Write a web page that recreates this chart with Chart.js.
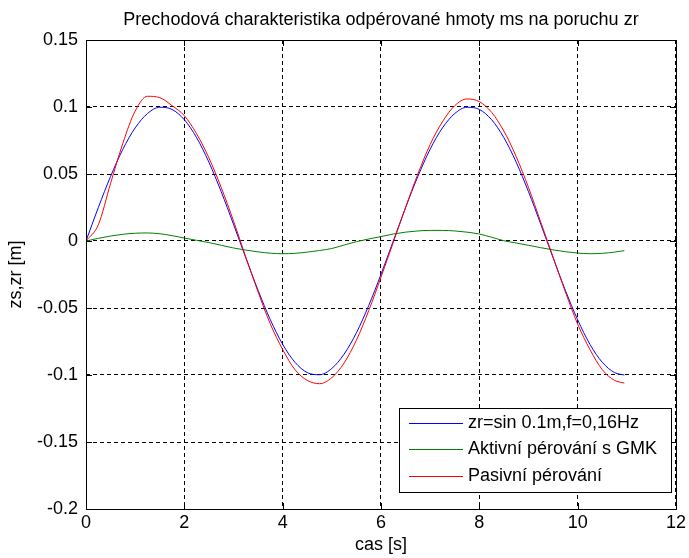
<!DOCTYPE html>
<html><head><meta charset="utf-8">
<script src="https://cdn.jsdelivr.net/npm/chart.js@4/dist/chart.umd.min.js"></script>
<style>html,body{margin:0;padding:0;background:#fff}</style>
</head><body>
<canvas id="c" width="689" height="558"></canvas>
<script>
// ---- data ----
const time = [0,0.25,0.5,0.75,1,1.25,1.5,1.75,2,2.25,2.5,2.75,3,3.25,3.5,3.75,4,4.25,4.5,4.75,5,5.25,5.5,5.75,6,6.25,6.5,6.75,7,7.25,7.5,7.75,8,8.25,8.5,8.75,9,9.25,9.5,9.75,10,10.25,10.5,10.75,10.95];
const zr = [0,0.0249,0.0482,0.0685,0.0844,0.0951,0.0998,0.0982,0.0905,0.0771,0.0588,0.0368,0.0125,-0.0125,-0.0368,-0.0588,-0.0771,-0.0905,-0.0982,-0.0998,-0.0951,-0.0844,-0.0685,-0.0482,-0.0249,0.0000,0.0249,0.0482,0.0685,0.0844,0.0951,0.0998,0.0982,0.0905,0.0771,0.0588,0.0368,0.0125,-0.0125,-0.0368,-0.0588,-0.0771,-0.0905,-0.0982,-0.1000];
const zsActive = [0,0.0020,0.0037,0.0050,0.0058,0.0060,0.0054,0.0040,0.0022,0.0005,-0.0012,-0.0032,-0.0052,-0.0068,-0.0081,-0.0091,-0.0095,-0.0092,-0.0083,-0.0071,-0.0056,-0.0030,-0.0005,0.0015,0.0033,0.0052,0.0066,0.0075,0.0079,0.0079,0.0075,0.0066,0.0052,0.0028,0.0002,-0.0015,-0.0032,-0.0050,-0.0066,-0.0080,-0.0090,-0.0095,-0.0092,-0.0083,-0.0072];
const zsPassive = [0,0.012,0.043,0.073,0.097,0.108,0.107,0.101,0.0935,0.080,0.062,0.040,0.015,-0.012,-0.038,-0.062,-0.081,-0.096,-0.104,-0.1065,-0.102,-0.091,-0.074,-0.052,-0.027,-0.001,0.025,0.050,0.072,0.089,0.101,0.106,0.104,0.096,0.082,0.063,0.040,0.014,-0.012,-0.038,-0.062,-0.081,-0.096,-0.104,-0.106];
const seriesNames = ['zr=sin 0.1m,f=0,16Hz','Aktivní pérování s GMK','Pasivní pérování'];
const seriesColors = ['#0000ff','#008000','#ff0000'];
const xTicks = [0,2,4,6,8,10,12];
const xTickLabels = ['0','2','4','6','8','10','12'];
const yTicks = [-0.2,-0.15,-0.1,-0.05,0,0.05,0.1,0.15];
const yTickLabels = ['-0.2','-0.15','-0.1','-0.05','0','0.05','0.1','0.15'];
const titleText = 'Prechodová charakteristika odpérované hmoty ms na poruchu zr';
const xTitle = 'cas [s]';
const yTitle = 'zs,zr [m]';

// ---- chart ----
const FONT = "'Liberation Sans', Arial, sans-serif";
const pts = arr => time.map((t,i)=>({x:t,y:arr[i]}));

const boxPlugin = {
  id:'matlabBox',
  afterDatasetsDraw(chart){
    const {ctx, chartArea:a, scales} = chart;
    ctx.save();
    ctx.strokeStyle='#000'; ctx.lineWidth=1; ctx.setLineDash([]);
    const tl = 6;
    ctx.beginPath();
    scales.x.ticks.forEach(t=>{
      const px = Math.round(scales.x.getPixelForValue(t.value))+0.5;
      ctx.moveTo(px,a.bottom); ctx.lineTo(px,a.bottom-tl);
      ctx.moveTo(px,a.top); ctx.lineTo(px,a.top+tl);
    });
    scales.y.ticks.forEach(t=>{
      const py = Math.round(scales.y.getPixelForValue(t.value))+0.5;
      ctx.moveTo(a.left,py); ctx.lineTo(a.left+tl,py);
      ctx.moveTo(a.right,py); ctx.lineTo(a.right-tl,py);
    });
    ctx.stroke();
    ctx.strokeRect(Math.round(a.left)+0.5, Math.round(a.top)+0.5, Math.round(a.right-a.left), Math.round(a.bottom-a.top));
    // legend
    const w=272, h=84;
    const lx = Math.round(a.right)-5-w, ly = Math.round(a.bottom)-17-h;
    ctx.fillStyle='#fff';
    ctx.fillRect(lx,ly,w,h);
    ctx.strokeRect(lx+0.5,ly+0.5,w,h);
    ctx.font = "18px "+FONT;
    ctx.textBaseline='middle'; ctx.textAlign='left';
    chart.data.datasets.forEach((ds,i)=>{
      const y = Math.round(ly+14.5+i*26.5)+0.5;
      ctx.strokeStyle = ds.borderColor;
      ctx.beginPath(); ctx.moveTo(lx+10,y); ctx.lineTo(lx+64,y); ctx.stroke();
      ctx.fillStyle='#000';
      ctx.fillText(ds.label, lx+69, y);
    });
    ctx.restore();
  }
};

new Chart(document.getElementById('c'), {
  type:'line',
  data:{datasets:[
    {label:seriesNames[0], data:pts(zr), borderColor:seriesColors[0], order:2},
    {label:seriesNames[1], data:pts(zsActive), borderColor:seriesColors[1], order:1},
    {label:seriesNames[2], data:pts(zsPassive), borderColor:seriesColors[2], order:0}
  ]},
  options:{
    responsive:false, animation:false, devicePixelRatio:1,
    layout:{padding:{left:0,right:9,top:0,bottom:0}},
    elements:{point:{radius:0}, line:{borderWidth:1, cubicInterpolationMode:'monotone', fill:false}},
    plugins:{
      legend:{display:false}, tooltip:{enabled:false},
      title:{display:true, text:titleText, color:'#000', fullSize:false,
        font:{family:FONT, size:18, weight:'normal', lineHeight:1.2}, padding:{top:9,bottom:9.4}}
    },
    scales:{
      x:{type:'linear', min:0, max:12,
        afterBuildTicks:s=>{s.ticks = xTicks.map(v=>({value:v}));},
        afterFit:s=>{s.height=49;},
        ticks:{callback:(v,i)=>xTickLabels[i], color:'#000', padding:3, maxRotation:0, autoSkip:false,
          font:{family:FONT,size:18}},
        grid:{color:'#000', lineWidth:1, drawTicks:false},
        border:{display:false, dash:[4,3]},
        title:{display:true, text:xTitle, color:'#000', font:{family:FONT,size:18,lineHeight:1.2}, padding:{top:0,bottom:2}}
      },
      y:{type:'linear', min:-0.2, max:0.15,
        afterBuildTicks:s=>{s.ticks = yTicks.map(v=>({value:v}));},
        afterFit:s=>{s.width=86;},
        ticks:{callback:(v,i)=>yTickLabels[i], color:'#000', padding:8, autoSkip:false,
          font:{family:FONT,size:18}},
        grid:{color:'#000', lineWidth:1, drawTicks:false},
        border:{display:false, dash:[4,3]},
        title:{display:true, text:yTitle, color:'#000', font:{family:FONT,size:18,lineHeight:1.2}, padding:{top:5,bottom:0}}
      }
    }
  },
  plugins:[boxPlugin]
});
</script>
</body></html>
